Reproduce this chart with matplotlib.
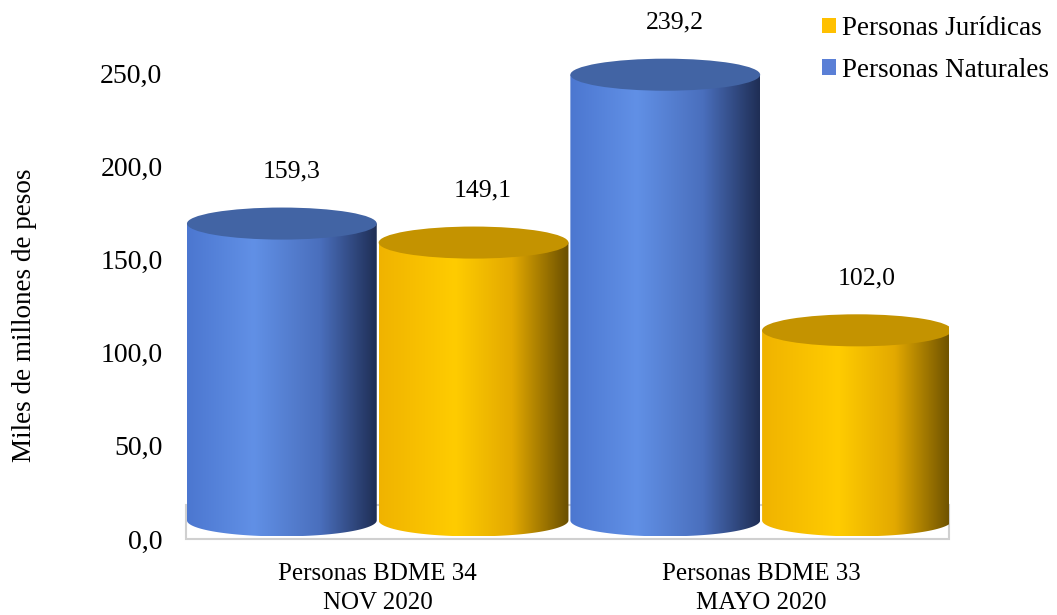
import numpy as np
import matplotlib

matplotlib.use("Agg")
import matplotlib.pyplot as plt
from matplotlib.colors import LinearSegmentedColormap
from matplotlib.patches import Ellipse, PathPatch, Rectangle, Patch
from matplotlib.path import Path

# ---------------------------------------------------------------------------
# Data
# ---------------------------------------------------------------------------
categories = ["Personas BDME 34\nNOV 2020", "Personas BDME 33\nMAYO 2020"]
naturales = [159.3, 239.2]
juridicas = [149.1, 102.0]
series_names = ["Personas Jurídicas", "Personas Naturales"]
yticks = [0, 50, 100, 150, 200, 250]


def fmt(v):
    return f"{v:.1f}".replace(".", ",")


# ---------------------------------------------------------------------------
# Style
# ---------------------------------------------------------------------------
plt.rcParams["font.family"] = ["Liberation Serif", "DejaVu Serif"]

BASE = 10.0     # centre of the bottom ellipse (data units)
EH = 8.6        # half height of the ellipses (data units)
WIDTH = 0.495   # cylinder width (category units)
OFFSET = 0.25

blue_side = LinearSegmentedColormap.from_list(
    "blue_side", [(0.0, "#4C77D0"), (0.35, "#6190E6"), (0.7, "#4A6FBD"), (1.0, "#1F2E55")])
yellow_side = LinearSegmentedColormap.from_list(
    "yellow_side", [(0.0, "#F0B300"), (0.4, "#FFCC00"), (0.7, "#E3A900"), (1.0, "#6A4F00")])
blue_top = "#4264A4"
yellow_top = "#C49300"


def cylinder(ax, cx, value, side_cmap, top_color, z):
    hw = WIDTH / 2
    top = BASE + value
    t = np.linspace(np.pi, 2 * np.pi, 80)
    xs = cx + hw * np.cos(t)
    ys = BASE + EH * np.sin(t)
    verts = list(zip(xs, ys)) + [(cx + hw, top), (cx - hw, top), (xs[0], ys[0])]
    clip = PathPatch(Path(verts, closed=True), transform=ax.transData,
                     facecolor="none", edgecolor="none")
    ax.add_patch(clip)
    grad = np.linspace(0, 1, 256)[None, :]
    im = ax.imshow(grad, cmap=side_cmap, extent=[cx - hw, cx + hw, BASE - EH, top],
                   aspect="auto", interpolation="bilinear", zorder=z)
    im.set_clip_path(clip)
    ax.add_patch(Ellipse((cx, top), WIDTH, 2 * EH, facecolor=top_color,
                         edgecolor="none", zorder=z + 0.5))
    return top


fig = plt.figure(figsize=(10.57, 6.15), dpi=100)
ax = fig.add_axes([186 / 1057, 76 / 615, 763 / 1057, 531 / 615])

# floor
ax.add_patch(Rectangle((-0.5, 0), 1.99, 18, facecolor="white", edgecolor="#D0D0D0",
                       lw=1.5, zorder=1, clip_on=False))

z = 2
for i in range(len(categories)):
    for value, off, cmap, tcol in [
        (naturales[i], -OFFSET, blue_side, blue_top),
        (juridicas[i], OFFSET, yellow_side, yellow_top),
    ]:
        cx = i + off
        top = cylinder(ax, cx, value, cmap, tcol, z)
        ax.text(cx + 0.025, top + 28, fmt(value), ha="center", va="center",
                fontsize=18.5, color="black", zorder=10)
        z += 1

ax.set_xlim(-0.5, 1.49)
ax.set_ylim(0, 285)
ax.set_yticks(yticks)
ax.set_yticklabels([fmt(v) for v in yticks], fontsize=20)
ax.set_xticks(range(len(categories)))
ax.set_xticklabels(categories, fontsize=18, linespacing=1.45)
ax.tick_params(axis="y", length=0, pad=17)
ax.tick_params(axis="x", length=0, pad=17)
for s in ax.spines.values():
    s.set_visible(False)

fig.text(25 / 1057, 1 - 315 / 615, "Miles de millones de pesos", rotation=90,
         ha="center", va="center", fontsize=19.5)

handles = [Patch(facecolor="#FFC000"), Patch(facecolor="#5A7FD6")]
fig.legend(handles=handles, labels=series_names, loc="upper left",
           bbox_to_anchor=(822 / 1057, 1 - 16 / 615), frameon=False, fontsize=19.5,
           handlelength=0.5, handleheight=0.5, handletextpad=0.25,
           borderpad=0, borderaxespad=0, labelspacing=0.62)

fig.savefig("out.png", dpi=100)
